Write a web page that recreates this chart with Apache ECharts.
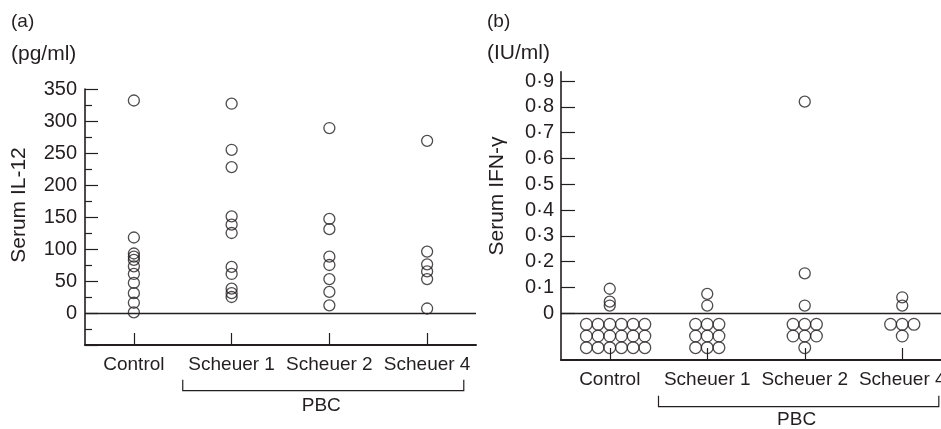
<!DOCTYPE html>
<html>
<head>
<meta charset="utf-8">
<script src="https://cdn.jsdelivr.net/npm/echarts@6/dist/echarts.min.js"></script>
<style>
html,body{margin:0;padding:0;background:#fff;}
#chart{width:941px;height:429px;}
</style>
</head>
<body>
<div id="chart"></div>
<script>
// ---- data ----
var categories = ['Control', 'Scheuer 1', 'Scheuer 2', 'Scheuer 4'];

// (a) Serum IL-12 (pg/ml)
var il12Control  = [332, 118, 93, 88, 83, 73, 61, 47, 31, 16, 1];
var il12Scheuer1 = [327, 255, 228, 151, 138, 125, 72, 61, 38, 31, 25];
var il12Scheuer2 = [289, 147, 131, 88, 75, 53, 33, 12];
var il12Scheuer4 = [269, 96, 76, 65, 53, 7];
var il12Ticks = [0, 50, 100, 150, 200, 250, 300, 350];

// (b) Serum IFN-gamma (IU/ml), detectable values
var ifnControl  = [0.095, 0.045, 0.03];
var ifnScheuer1 = [0.075, 0.03];
var ifnScheuer2 = [0.82, 0.155, 0.03];
var ifnScheuer4 = [0.062, 0.03];
// number of undetectable samples (drawn below zero)
var ifnUndetectable = [18, 9, 7, 4];
var ifnTicks = [0, 0.1, 0.2, 0.3, 0.4, 0.5, 0.6, 0.7, 0.8, 0.9];

// ---- layout / style ----
var INK = '#231f20';
var FONT = 'Liberation Sans, Arial, Helvetica, sans-serif';
var DOT = 11;           // symbol size (px)
var DOT_STEP = 11.7;    // spacing of stacked undetectable dots (px)
var clusterCols = [6, 3, 3, 3];

var il12Groups = [il12Control, il12Scheuer1, il12Scheuer2, il12Scheuer4];
var ifnGroups = [ifnControl, ifnScheuer1, ifnScheuer2, ifnScheuer4];

var il12Data = [];
il12Groups.forEach(function (g, i) { g.forEach(function (v) { il12Data.push([i, v]); }); });
var ifnData = [];
ifnGroups.forEach(function (g, i) { g.forEach(function (v) { ifnData.push([i, v]); }); });

var ndData = [];
ifnUndetectable.forEach(function (n, i) {
  var cols = clusterCols[i];
  var rows = Math.ceil(n / cols);
  var k = 0;
  for (var r = 0; r < rows; r++) {
    var inRow = Math.min(cols, n - k);
    var c0 = Math.floor((inRow - 1) / 2);
    for (var c = 0; c < inRow; c++) {
      ndData.push({ value: [i, 0], symbolOffset: [(c - c0) * DOT_STEP, 11 + r * DOT_STEP] });
      k++;
    }
  }
});

function dotLabel(v) {
  if (v === 0) return '0';
  return v.toFixed(1).replace('.', '\u00b7');
}

var axisText = { color: INK, fontFamily: FONT, fontSize: 19 };
var tickText = { color: INK, fontFamily: FONT, fontSize: 20 };
var dotStyle = { color: 'rgba(0,0,0,0)', borderColor: INK, borderWidth: 1.3 };
var zeroLine = {
  silent: true, symbol: 'none', animation: false,
  label: { show: false },
  lineStyle: { color: INK, width: 1.3, type: 'solid' },
  data: [{ yAxis: 0 }]
};

function xAxisCfg(gi) {
  return {
    type: 'category', gridIndex: gi, data: categories, boundaryGap: true,
    axisLine: { show: true, onZero: false, lineStyle: { color: INK, width: 2 } },
    axisTick: { show: true, inside: true, alignWithLabel: true, length: 12, lineStyle: { color: INK, width: 1.2 } },
    axisLabel: Object.assign({ interval: 0, margin: 10 }, axisText),
    splitLine: { show: false }
  };
}

var chart = echarts.init(document.getElementById('chart'));
chart.setOption({
  animation: false,
  backgroundColor: '#fff',
  grid: [
    { left: 85, top: 89, width: 391, height: 256, containLabel: false, outerBoundsMode: 'none' },
    { left: 561, top: 71.7, width: 390, height: 288.3, containLabel: false, outerBoundsMode: 'none' }
  ],
  xAxis: [xAxisCfg(0), xAxisCfg(1)],
  yAxis: [
    {
      type: 'value', gridIndex: 0, min: -50, max: 350, interval: 50,
      axisLine: { show: true, onZero: false, lineStyle: { color: INK, width: 1.6 } },
      axisTick: { show: true, inside: true, length: 13, lineStyle: { color: INK, width: 1.2 } },
      minorTick: { show: true, splitNumber: 2, length: 7, lineStyle: { color: INK, width: 1.2 } },
      axisLabel: Object.assign({ margin: 8, customValues: il12Ticks, formatter: function (v) { return String(v); } }, tickText),
      splitLine: { show: false }, minorSplitLine: { show: false }
    },
    {
      type: 'value', gridIndex: 1, min: -0.181, max: 0.936,
      axisLine: { show: true, onZero: false, lineStyle: { color: INK, width: 1.6 } },
      axisTick: { show: true, inside: true, length: 14, customValues: ifnTicks, lineStyle: { color: INK, width: 1.2 } },
      axisLabel: Object.assign({ margin: 7, customValues: ifnTicks, formatter: dotLabel }, tickText),
      splitLine: { show: false }
    }
  ],
  series: [
    {
      type: 'scatter', xAxisIndex: 0, yAxisIndex: 0, data: il12Data,
      symbol: 'circle', symbolSize: DOT, itemStyle: dotStyle, markLine: zeroLine, silent: true
    },
    {
      type: 'scatter', xAxisIndex: 1, yAxisIndex: 1, data: ifnData,
      symbol: 'circle', symbolSize: DOT, itemStyle: dotStyle, markLine: zeroLine, silent: true
    },
    {
      type: 'scatter', xAxisIndex: 1, yAxisIndex: 1, data: ndData,
      symbol: 'circle', symbolSize: DOT + 0.7, itemStyle: dotStyle, silent: true
    }
  ]
});

// ---- annotations (titles, units, PBC brackets) ----
function bracket(xi, y, gi) {
  var c1 = chart.convertToPixel({ xAxisIndex: xi }, 1);
  var c3 = chart.convertToPixel({ xAxisIndex: xi }, 3);
  var band = c3 - chart.convertToPixel({ xAxisIndex: xi }, 2);
  var x1 = c1 - band / 2, x2 = c3 + band * 0.375;
  return [
    { type: 'polyline', shape: { points: [[x1, y - 11], [x1, y], [x2, y], [x2, y - 11]] },
      style: { stroke: INK, lineWidth: 1.2, fill: null }, silent: true },
    { type: 'text', style: { text: 'PBC', x: (x1 + x2) / 2 - 2, y: y + 15 + gi * -1.5, align: 'center', verticalAlign: 'middle',
      font: '19px ' + FONT, fill: INK }, silent: true }
  ];
}
function label(text, x, y, size, rot) {
  var el = { type: 'text', x: x, y: y, silent: true,
    style: { text: text, x: 0, y: 0, align: rot ? 'center' : 'left', verticalAlign: 'middle', font: size + 'px ' + FONT, fill: INK } };
  if (rot) el.rotation = Math.PI / 2;
  return el;
}
var g = [
  label('(a)', 11, 22, 19),
  label('(pg/ml)', 11, 54, 21),
  label('Serum IL-12', 19, 205, 21, true),
  label('(b)', 487, 22, 19),
  label('(IU/ml)', 487, 53, 21),
  label('Serum IFN-\u03b3', 497, 196, 21, true)
];
g = g.concat(bracket(0, 390.7, 0), bracket(1, 406.7, 1));
chart.setOption({ graphic: g });
</script>
</body>
</html>
